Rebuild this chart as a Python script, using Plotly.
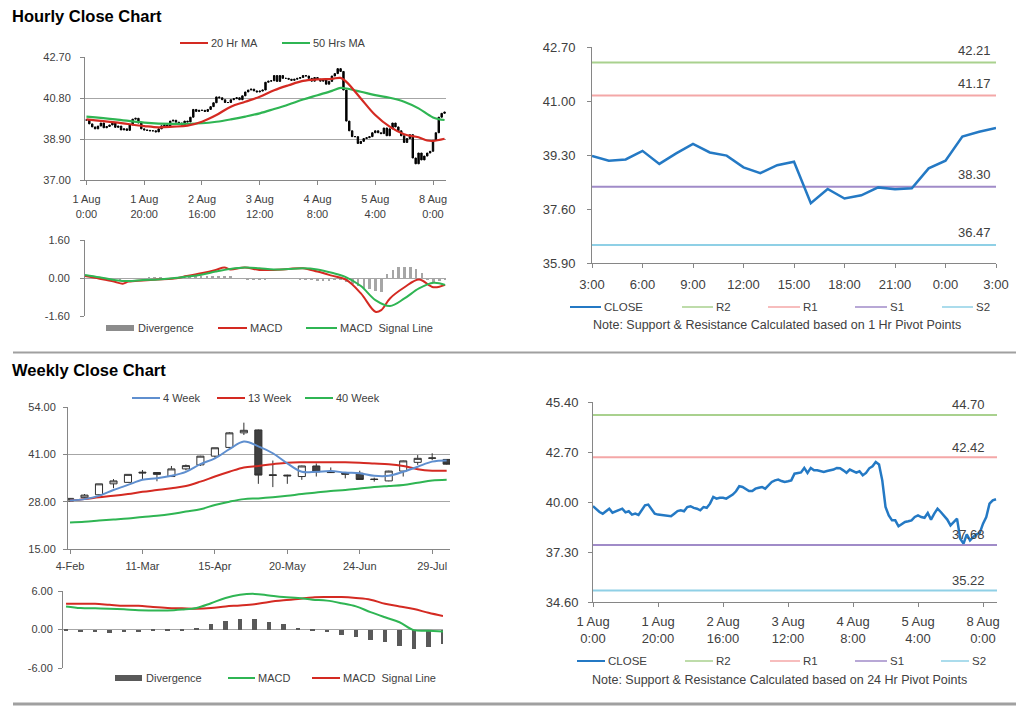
import plotly.graph_objects as go

OFF = 8                       # page body margin of the html page
W, H = 1024 - OFF, 706 - OFF  # figure size so that the page fits the window
def fx(p): return (p - OFF) / W
def fy(p): return 1 - (p - OFF) / H

# ---------------- DATA ----------------
# Hourly close (1 Aug 0:00 ... 8 Aug ~4:00, trading hours only)
hourly_close = [
    39.78, 39.60, 39.46, 39.37, 39.50, 39.64, 39.42, 39.48, 39.55, 39.64,
    39.44, 39.50, 39.32, 39.37, 39.30, 39.55, 39.82, 39.86, 39.64, 39.37,
    39.32, 39.30, 39.28, 39.28, 39.23, 39.37, 39.51, 39.55, 39.50, 39.73,
    39.77, 39.68, 39.64, 39.55, 39.73, 39.69, 39.91, 40.27, 40.18, 40.23,
    40.23, 40.18, 40.27, 40.40, 40.58, 40.85, 40.81, 40.72, 40.59, 40.59,
    40.72, 40.77, 40.81, 40.72, 40.90, 41.08, 41.17, 41.21, 41.13, 41.08,
    41.12, 41.17, 41.53, 41.58, 41.60, 41.84, 41.57, 41.84, 41.71, 41.71,
    41.67, 41.62, 41.67, 41.71, 41.75, 41.84, 41.82, 41.71, 41.58, 41.75,
    41.67, 41.58, 41.66, 41.44, 41.57, 41.82, 41.93, 42.16, 42.03, 41.17,
    39.73, 39.28, 39.01, 39.01, 38.69, 38.79, 38.92, 38.96, 39.01, 39.19,
    39.28, 39.19, 39.15, 39.41, 39.05, 39.37, 39.64, 39.46, 39.28, 39.05,
    38.74, 38.92, 39.10, 38.02, 37.75, 38.25, 37.93, 38.11, 38.25, 38.33,
    38.83, 39.19, 39.91, 40.09, 40.15,
]
hourly_tickvals = [0, 20, 40, 60, 80, 100, 120]
hourly_ticktext = ["1 Aug<br>0:00", "1 Aug<br>20:00", "2 Aug<br>16:00", "3 Aug<br>12:00",
                   "4 Aug<br>8:00", "5 Aug<br>4:00", "8 Aug<br>0:00"]

ma20_idx = [0, 10, 20, 25, 30, 35, 40, 45, 50, 55, 60, 65, 70, 75, 80, 85, 88, 90, 95, 100,
            105, 110, 115, 118, 120, 124]
ma20_val = [39.81, 39.67, 39.50, 39.44, 39.47, 39.52, 39.70, 40.01, 40.40, 40.63, 40.86, 41.16,
            41.39, 41.59, 41.66, 41.69, 41.73, 41.55, 40.78, 40.01, 39.47, 39.12, 38.98, 38.83,
            38.81, 38.91]
ma50_idx = [0, 10, 20, 30, 40, 45, 50, 55, 60, 65, 70, 75, 80, 85, 88, 90, 95, 100, 105, 110,
            115, 120, 124]
ma50_val = [39.94, 39.81, 39.66, 39.60, 39.63, 39.70, 39.81, 39.94, 40.09, 40.29, 40.50, 40.73,
            40.93, 41.13, 41.27, 41.24, 41.09, 40.93, 40.81, 40.63, 40.32, 39.90, 39.78]

macd_h_idx = [0, 5, 10, 13, 15, 20, 25, 30, 35, 40, 45, 48, 50, 55, 60, 65, 70, 75, 80, 85, 90,
              95, 100, 102, 105, 110, 115, 120, 124]
macd_h_val = [0.08, -0.03, -0.15, -0.24, -0.15, -0.10, -0.06, -0.03, 0.08, 0.20, 0.34, 0.44,
              0.36, 0.44, 0.34, 0.34, 0.38, 0.41, 0.27, 0.10, -0.08, -0.65, -1.42, -1.35, -0.86,
              -0.39, -0.06, -0.39, -0.29]
sig_h_idx = [0, 5, 10, 15, 20, 25, 30, 35, 40, 45, 50, 55, 60, 65, 70, 75, 80, 85, 90, 95, 100,
             105, 110, 115, 120, 124]
sig_h_val = [0.13, 0.03, -0.08, -0.13, -0.08, -0.06, -0.01, 0.06, 0.14, 0.27, 0.38, 0.44, 0.41,
             0.36, 0.38, 0.41, 0.36, 0.22, 0.03, -0.34, -0.93, -1.18, -0.86, -0.44, -0.20, -0.29]
div_h_idx = list(range(0, 125, 2))
div_h_val = [0.0, -0.02, -0.03, -0.05, -0.05, -0.06, -0.05, -0.04, -0.03, -0.02,
             -0.02, 0.02, 0.03, 0.02, -0.01, -0.02, 0.0, 0.02, 0.03, 0.05,
             0.05, 0.07, 0.08, 0.10, 0.09, 0.05, 0.0, -0.04, -0.05, -0.05,
             -0.06, -0.06, -0.04, -0.02, 0.0, 0.0, 0.0, -0.05, -0.07, -0.10,
             -0.12, -0.14, -0.12, -0.10, -0.08, -0.15, -0.25, -0.32, -0.40, -0.48,
             -0.55, -0.58, 0.15, 0.35, 0.45, 0.47, 0.45, 0.38, 0.20, -0.08,
             -0.15, -0.12, -0.05]

# 1-hour pivot chart
close_1h = [39.27, 39.12, 39.16, 39.43, 39.02, 39.35, 39.65, 39.38, 39.28, 38.91, 38.73, 38.98,
            39.09, 37.78, 38.23, 37.93, 38.03, 38.28, 38.22, 38.25, 38.88, 39.12, 39.88, 40.03,
            40.15]
close_1h_tickvals = [0, 3, 6, 9, 12, 15, 18, 21, 24]
close_1h_ticktext = ["3:00", "6:00", "9:00", "12:00", "15:00", "18:00", "21:00", "0:00", "3:00"]

pivot_names = ["R2", "R1", "S1", "S2"]
pivot_colors = ["#a9d18e", "#f4a7a7", "#a08bc8", "#8fd0e6"]
pivot_1h = [42.21, 41.17, 38.30, 36.47]
pivot_24h = [44.70, 42.42, 37.68, 35.22]

# Weekly
week_labels = ["4-Feb", "11-Mar", "15-Apr", "20-May", "24-Jun", "29-Jul"]
week_label_pos = [0, 5, 10, 15, 20, 25]
w_open = [28.2, 29.1, 29.9, 32.9, 33.3, 36.1, 36.0, 34.9, 37.0, 38.1, 40.5, 42.9, 46.9, 47.7,
          35.4, 35.3, 34.9, 37.8, 36.1, 36.0, 35.8, 34.2, 33.7, 36.4, 38.8, 39.9, 39.6]
w_close = [28.9, 29.8, 32.9, 33.7, 35.5, 35.9, 35.5, 37.0, 37.9, 40.5, 42.8, 46.9, 47.6, 35.3,
           35.2, 35.1, 37.8, 36.2, 36.0, 35.5, 34.1, 34.1, 36.4, 39.2, 39.9, 40.0, 38.3]
w_high = [29.0, 30.1, 32.9, 34.2, 35.5, 36.7, 36.1, 37.8, 38.2, 40.6, 42.8, 47.1, 49.7, 47.8,
          39.3, 35.4, 37.9, 38.5, 37.4, 36.0, 36.5, 34.6, 36.5, 39.3, 40.8, 41.3, 39.7]
w_low = [28.0, 29.0, 29.8, 31.7, 33.2, 34.0, 33.6, 34.9, 36.6, 37.8, 40.1, 42.7, 46.3, 32.9,
         32.0, 32.9, 34.0, 34.9, 35.9, 34.4, 34.1, 33.5, 33.6, 34.9, 38.1, 39.4, 38.2]
ma4w = [28.3, 28.7, 29.6, 31.2, 32.6, 34.0, 34.4, 35.1, 36.2, 38.3, 39.9, 42.4, 44.5, 43.2, 41.3,
        38.5, 36.2, 36.2, 36.4, 36.0, 35.8, 35.1, 35.1, 36.2, 37.6, 39.0, 39.3]
ma13w = [28.3, 28.7, 29.2, 29.6, 30.1, 30.7, 31.2, 31.7, 32.3, 33.5, 34.9, 36.2, 37.4, 37.8,
         38.3, 38.7, 38.8, 38.8, 38.8, 38.8, 38.7, 38.5, 38.3, 37.8, 36.9, 36.5, 36.5]
ma40w = [22.3, 22.5, 22.8, 23.1, 23.4, 23.8, 24.1, 24.6, 25.3, 25.9, 27.1, 28.0, 28.7, 28.9,
         29.2, 29.6, 30.1, 30.5, 30.9, 31.2, 31.6, 32.0, 32.3, 32.6, 33.2, 33.8, 34.0]
macd_w = [3.6, 3.35, 3.3, 3.25, 3.15, 3.0, 2.97, 2.95, 3.1, 3.35, 4.1, 4.9, 5.4, 5.55, 5.3, 5.05,
          4.9, 4.65, 4.5, 4.1, 3.6, 2.7, 1.9, 1.13, -0.1, -0.2, -0.3]
sig_w = [4.0, 4.0, 4.0, 3.85, 3.7, 3.7, 3.5, 3.35, 3.3, 3.25, 3.35, 3.6, 3.75, 3.95, 4.3, 4.55,
         4.75, 5.0, 5.05, 5.05, 4.9, 4.65, 4.0, 3.6, 3.2, 2.6, 2.1]
div_w = [-0.1, -0.4, -0.4, -0.6, -0.4, -0.4, -0.26, -0.3, -0.15, 0.2, 0.8, 1.3, 1.65, 1.65, 1.1,
         0.8, 0.25, -0.1, -0.4, -0.8, -1.1, -1.65, -2.0, -2.6, -3.1, -2.7, -2.2]

# ---------------- STYLE ----------------
FONT = "Arial, Liberation Sans, sans-serif"
TXT = "#404040"
AXC = "#868686"
GRID = "#a6a6a6"
RED = "#d42a22"
GREEN = "#2fb553"
BLUE_MA = "#5f8fcf"
CLOSE_BLUE = "#2479c4"

fig = go.Figure()

# --- 1: hourly candles ---
h_idx = list(range(len(hourly_close)))
h_open = [hourly_close[0]] + hourly_close[:-1]
h_high = [max(o, c) for o, c in zip(h_open, hourly_close)]
h_low = [min(o, c) for o, c in zip(h_open, hourly_close)]
fig.add_trace(go.Candlestick(
    x=h_idx, open=h_open, high=h_high, low=h_low, close=hourly_close,
    increasing=dict(line=dict(color="black", width=1), fillcolor="black"),
    decreasing=dict(line=dict(color="black", width=1), fillcolor="black"),
    xaxis="x", yaxis="y", showlegend=False, hoverinfo="skip"))
fig.add_trace(go.Scatter(x=ma50_idx, y=ma50_val, mode="lines", line=dict(color=GREEN, width=2.2, shape="spline"),
                         xaxis="x", yaxis="y", showlegend=False))
fig.add_trace(go.Scatter(x=ma20_idx, y=ma20_val, mode="lines", line=dict(color=RED, width=2.2, shape="spline"),
                         xaxis="x", yaxis="y", showlegend=False))

# --- 2: hourly MACD ---
fig.add_trace(go.Bar(x=div_h_idx, y=div_h_val, width=0.9, marker=dict(color="#a6a6a6", line=dict(width=0)),
                     xaxis="x2", yaxis="y2", showlegend=False))
fig.add_trace(go.Scatter(x=macd_h_idx, y=macd_h_val, mode="lines", line=dict(color=RED, width=2, shape="spline"),
                         xaxis="x2", yaxis="y2", showlegend=False))
fig.add_trace(go.Scatter(x=sig_h_idx, y=sig_h_val, mode="lines", line=dict(color=GREEN, width=2, shape="spline"),
                         xaxis="x2", yaxis="y2", showlegend=False))

# --- 3: 1h pivot ---
for name, col, v in zip(pivot_names, pivot_colors, pivot_1h):
    fig.add_trace(go.Scatter(x=[0, 24], y=[v, v], mode="lines", line=dict(color=col, width=2),
                             xaxis="x3", yaxis="y3", showlegend=False))
fig.add_trace(go.Scatter(x=list(range(len(close_1h))), y=close_1h, mode="lines",
                         line=dict(color=CLOSE_BLUE, width=2.5), xaxis="x3", yaxis="y3", showlegend=False))

# --- 4: weekly candles ---
w_idx = list(range(len(w_close)))
fig.add_trace(go.Candlestick(
    x=w_idx, open=w_open, high=w_high, low=w_low, close=w_close,
    increasing=dict(line=dict(color="#303030", width=1), fillcolor="white"),
    decreasing=dict(line=dict(color="#303030", width=1), fillcolor="#404040"),
    whiskerwidth=0, xaxis="x4", yaxis="y4", showlegend=False, hoverinfo="skip"))
fig.add_trace(go.Scatter(x=w_idx, y=ma40w, mode="lines", line=dict(color=GREEN, width=2, shape="spline"),
                         xaxis="x4", yaxis="y4", showlegend=False))
fig.add_trace(go.Scatter(x=w_idx, y=ma13w, mode="lines", line=dict(color=RED, width=2, shape="spline"),
                         xaxis="x4", yaxis="y4", showlegend=False))
fig.add_trace(go.Scatter(x=w_idx, y=ma4w, mode="lines", line=dict(color=BLUE_MA, width=2, shape="spline"),
                         xaxis="x4", yaxis="y4", showlegend=False))

# --- 5: weekly MACD ---
fig.add_trace(go.Bar(x=w_idx, y=div_w, width=0.32, marker=dict(color="#595959", line=dict(width=0)),
                     xaxis="x5", yaxis="y5", showlegend=False))
fig.add_trace(go.Scatter(x=w_idx, y=sig_w, mode="lines", line=dict(color=RED, width=2, shape="spline"),
                         xaxis="x5", yaxis="y5", showlegend=False))
fig.add_trace(go.Scatter(x=w_idx, y=macd_w, mode="lines", line=dict(color=GREEN, width=2, shape="spline"),
                         xaxis="x5", yaxis="y5", showlegend=False))

# --- 6: 24h pivot ---
for name, col, v in zip(pivot_names, pivot_colors, pivot_24h):
    fig.add_trace(go.Scatter(x=[0, 124.3], y=[v, v], mode="lines", line=dict(color=col, width=2),
                             xaxis="x6", yaxis="y6", showlegend=False))
fig.add_trace(go.Scatter(x=h_idx, y=hourly_close, mode="lines",
                         line=dict(color=CLOSE_BLUE, width=2.5), xaxis="x6", yaxis="y6", showlegend=False))

# ---------------- AXES ----------------
def xax(dom, rng, tickvals=None, ticktext=None, anchor=None, size=11, showline=True, standoff=0):
    d = dict(domain=[fx(dom[0]), fx(dom[1])], range=rng, anchor=anchor, automargin=False,
             showline=showline, linecolor=AXC, linewidth=1, ticks="outside" if showline else "",
             ticklen=4, tickcolor=AXC, showgrid=False, zeroline=False, fixedrange=True,
             ticklabelstandoff=standoff,
             tickfont=dict(size=size, color=TXT, family=FONT), rangeslider=dict(visible=False))
    if tickvals is not None:
        d.update(tickmode="array", tickvals=tickvals, ticktext=ticktext)
    else:
        d.update(showticklabels=False)
    return d

def yax(dom, rng, tickvals, ticktext, anchor, size=11, grid=True, zeroline=False, standoff=0):
    return dict(domain=[fy(dom[1]), fy(dom[0])], range=rng, anchor=anchor, automargin=False,
                showline=True, linecolor=AXC, linewidth=1, ticks="outside", ticklen=4, tickcolor=AXC,
                showgrid=grid, gridcolor=GRID, gridwidth=1, zeroline=zeroline, zerolinecolor=GRID,
                zerolinewidth=1, fixedrange=True, tickmode="array", tickvals=tickvals, ticktext=ticktext,
                ticklabelstandoff=standoff,
                tickfont=dict(size=size, color=TXT, family=FONT))

layout = dict(
    width=W, height=H, margin=dict(l=0, r=0, t=0, b=0, pad=0, autoexpand=False),
    paper_bgcolor="white", plot_bgcolor="white", showlegend=False, bargap=0,
    font=dict(family=FONT, color=TXT),
    xaxis=xax((85, 446), [-0.5, 124.5], hourly_tickvals, hourly_ticktext, "y", standoff=5),
    yaxis=yax((57, 180), [37.0, 42.7], [37.0, 38.9, 40.8, 42.7], ["37.00", "38.90", "40.80", "42.70"], "x",
              standoff=7),
    xaxis2=xax((85, 446), [0, 124.3], anchor="y2", showline=False),
    yaxis2=yax((240, 316), [-1.6, 1.6], [-1.6, 0, 1.6], ["-1.60", "0.00", "1.60"], "x2", zeroline=True,
               standoff=8),
    xaxis3=xax((592, 996), [0, 24], close_1h_tickvals, close_1h_ticktext, "y3", size=13, standoff=5),
    yaxis3=yax((47, 263), [35.9, 42.7], [35.9, 37.6, 39.3, 41.0, 42.7],
               ["35.90", "37.60", "39.30", "41.00", "42.70"], "x3", size=13, grid=False, standoff=9),
    xaxis4=xax((68, 450), [-0.14, 26.23], week_label_pos, week_labels, "y4", standoff=3),
    yaxis4=yax((407, 549), [15, 54], [15, 28, 41, 54], ["15.00", "28.00", "41.00", "54.00"], "x4", standoff=5),
    xaxis5=xax((63, 443), [-0.21, 26.0], anchor="y5", showline=False),
    yaxis5=yax((591, 668), [-6, 6], [-6, 0, 6], ["-6.00", "0.00", "6.00"], "x5", zeroline=True, standoff=3),
    xaxis6=xax((593, 997), [0, 124.3], hourly_tickvals, hourly_ticktext, "y6", size=13, standoff=3),
    yaxis6=yax((402, 602), [34.6, 45.4], [34.6, 37.3, 40.0, 42.7, 45.4],
               ["34.60", "37.30", "40.00", "42.70", "45.40"], "x6", size=13, grid=False, standoff=7),
)

shapes = []
annotations = []

def ptext(x, y, text, size=11, anchor="left", color=TXT, bold=False):
    annotations.append(dict(xref="paper", yref="paper", x=fx(x), y=fy(y), text=("<b>%s</b>" % text) if bold else text,
                            showarrow=False, xanchor=anchor, yanchor="middle",
                            font=dict(size=size, color=color, family=FONT)))

def leg_line(x0, x1, y, color, text, width=2, size=11):
    shapes.append(dict(type="line", xref="paper", yref="paper", x0=fx(x0), x1=fx(x1), y0=fy(y), y1=fy(y),
                       line=dict(color=color, width=width)))
    ptext(x1 + 1, y, text, size=size)

def leg_box(x0, x1, y, color, text, size=11):
    shapes.append(dict(type="rect", xref="paper", yref="paper", x0=fx(x0), x1=fx(x1), y0=fy(y + 3), y1=fy(y - 3),
                       fillcolor=color, line=dict(width=0)))
    ptext(x1 + 2, y, text, size=size)

# titles
ptext(10, 16, "Hourly Close Chart", size=16.5, color="black", bold=True)
ptext(10, 370, "Weekly Close Chart", size=16.5, color="black", bold=True)

# separators
shapes.append(dict(type="line", xref="paper", yref="paper", x0=fx(13), x1=fx(1022), y0=fy(352.5), y1=fy(352.5),
                   line=dict(color="#a0a0a0", width=2)))
shapes.append(dict(type="line", xref="paper", yref="paper", x0=fx(13), x1=fx(1022), y0=fy(704), y1=fy(704),
                   line=dict(color="#a0a0a0", width=3)))

# legends
leg_line(180, 208, 43, RED, "20 Hr MA")
leg_line(282, 310, 43, GREEN, "50 Hrs MA")

leg_box(106, 134, 328, "#8c8c8c", "Divergence")
leg_line(218, 247, 328, RED, "MACD")
leg_line(306, 337, 328, GREEN, "MACD  Signal Line")

leg_line(132, 160, 398, BLUE_MA, "4 Week")
leg_line(217, 245, 398, RED, "13 Week")
leg_line(305, 333, 398, GREEN, "40 Week")

leg_box(115, 142, 678, "#595959", "Divergence")
leg_line(228, 255, 678, GREEN, "MACD")
leg_line(312, 340, 678, RED, "MACD  Signal Line")

for (y_leg, xs) in [(307, [(570, 601), (682, 713), (768, 800), (855, 887), (942, 973)]),
                    (661, [(577, 605), (685, 713), (770, 800), (855, 887), (941, 969)])]:
    names = ["CLOSE"] + pivot_names
    cols = [CLOSE_BLUE] + pivot_colors
    for (a, b), n, c in zip(xs, names, cols):
        leg_line(a, b, y_leg, c, n, width=2 if n == "CLOSE" else 1.5, size=11.5)

ptext(777, 325, "Note: Support &amp; Resistance Calculated based on 1 Hr Pivot Points", size=12.5, anchor="center")
ptext(779, 680, "Note: Support &amp; Resistance Calculated based on 24 Hr Pivot Points", size=12.5, anchor="center")

# pivot value labels
for v in pivot_1h:
    annotations.append(dict(xref="x3", yref="y3", x=22.7, y=v, text="%.2f" % v, showarrow=False,
                            xanchor="center", yanchor="middle", yshift=12,
                            font=dict(size=13, color=TXT, family=FONT)))
for v in pivot_24h:
    annotations.append(dict(xref="x6", yref="y6", x=115.5, y=v, text="%.2f" % v, showarrow=False,
                            xanchor="center", yanchor="middle", yshift=10,
                            font=dict(size=13, color=TXT, family=FONT)))

layout["shapes"] = shapes
layout["annotations"] = annotations
fig.update_layout(**layout)
fig.write_html("out.html")
